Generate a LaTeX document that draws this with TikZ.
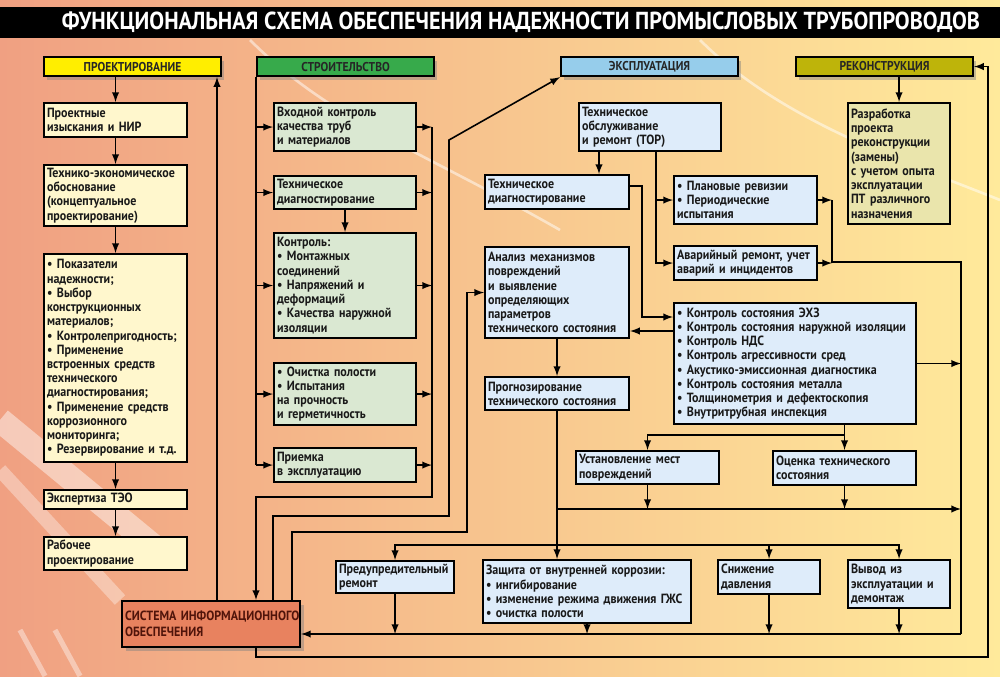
\documentclass[tikz,border=0pt]{standalone}
\usepackage{fontspec}
\setmainfont[FakeStretch=0.9]{PT Sans}
\usetikzlibrary{positioning,calc,shadows}

\definecolor{bgL}{RGB}{240,160,130}
\definecolor{bgM}{RGB}{250,203,122}
\definecolor{bgR}{RGB}{255,234,155}
\definecolor{cProj}{RGB}{255,238,0}
\definecolor{cStr}{RGB}{55,170,75}
\definecolor{cExp}{RGB}{150,205,235}
\definecolor{cRec}{RGB}{190,180,10}
\definecolor{fDes}{RGB}{255,247,205}
\definecolor{fStr}{RGB}{218,232,210}
\definecolor{fExp}{RGB}{222,236,250}
\definecolor{fRec}{RGB}{234,229,172}
\definecolor{fSio}{RGB}{232,130,95}
\definecolor{tSio}{RGB}{80,20,10}

\tikzset{
  arr/.style={line width=0.9pt,-latex},
  ln/.style={line width=0.9pt},
  hdr/.style={draw, line width=1.2pt, anchor=north west, minimum width=3.54cm,
    minimum height=0.38cm, inner sep=0pt, text=black!85,
    font=\fontsize{7.3}{8}\selectfont\bfseries,
    drop shadow={shadow xshift=1.5pt, shadow yshift=-2pt, opacity=0.45}},
  bx/.style={draw, line width=1.2pt, anchor=north west, inner xsep=0.06cm,
    inner ysep=1pt, align=left, text=black!90,
    font=\fontsize{7.6}{8.1}\selectfont\bfseries},
  dbox/.style={bx, fill=fDes, text width=2.74cm},
  cbox/.style={bx, fill=fStr, text width=2.72cm},
  ebox/.style={bx, fill=fExp},
  rbox/.style={bx, fill=fRec},
  sbox/.style={bx, fill=fSio, text=tSio, text width=3.44cm, minimum height=0.92cm,
    font=\fontsize{7.6}{9}\selectfont\bfseries,
    drop shadow={shadow xshift=2pt, shadow yshift=-2pt, opacity=0.45}}
}

\begin{document}
\begin{tikzpicture}[x=0.02cm, y=-0.02cm]
  \useasboundingbox (0,0) rectangle (1000,676);
  % background
  \shade[left color=bgL, middle color=bgM, right color=bgR] (0,0) rectangle (1000,676);
  \draw[white, opacity=0.45, line width=14pt] (0,420) -- (170,560);
  \draw[white, opacity=0.35, line width=8pt] (0,470) -- (120,600);
  \draw[white, opacity=0.4, line width=3pt] (20,630) -- (45,676);
  \draw[white, opacity=0.4, line width=3pt] (55,630) -- (80,676);
  \draw[white, opacity=0.5, line width=1.5pt] (250,40) .. controls (330,120) and (420,150) .. (560,230);
  \draw[white, opacity=0.5, line width=1.5pt] (700,40) .. controls (780,120) and (900,160) .. (1000,200);
  \fill[black] (0,7) rectangle (1000,38);
  \node[text=white, font=\fontsize{14}{16}\selectfont\bfseries] (title) at (521,22)
    {ФУНКЦИОНАЛЬНАЯ СХЕМА ОБЕСПЕЧЕНИЯ НАДЕЖНОСТИ ПРОМЫСЛОВЫХ ТРУБОПРОВОДОВ};

  % headers
  \node[hdr, fill=cProj] (hProj) at (43,56)  {ПРОЕКТИРОВАНИЕ};
  \node[hdr, fill=cStr]  (hStr)  at (256,56) {СТРОИТЕЛЬСТВО};
  \node[hdr, fill=cExp]  (hExp)  at (560,56) {ЭКСПЛУАТАЦИЯ};
  \node[hdr, fill=cRec]  (hRec)  at (795,56) {РЕКОНСТРУКЦИЯ};

  % design
  \node[dbox, minimum height=0.68cm] (dA) at (43,102) {Проектные\\изыскания и НИР};
  \node[dbox, minimum height=1.22cm] (dB) at (43,164) {Технико-экономическое\\обоснование\\(концептуальное\\проектирование)};
  \node[dbox, minimum height=4.16cm] (dC) at (43,253) {•~Показатели\\надежности;\\•~Выбор\\конструкционных\\материалов;\\•~Контролепригодность;\\•~Применение\\встроенных средств\\технического\\диагностирования;\\•~Применение средств\\коррозионного\\мониторинга;\\•~Резервирование и~т.д.};
  \node[dbox, minimum height=0.38cm] (dD) at (43,489) {Экспертиза ТЭО};
  \node[dbox, minimum height=0.66cm] (dE) at (43,536) {Рабочее\\проектирование};

  % construction
  \node[cbox, minimum height=0.96cm] (cA) at (273,102) {Входной контроль\\качества труб\\и материалов};
  \node[cbox, minimum height=0.66cm] (cB) at (273,175) {Техническое\\диагностирование};
  \node[cbox, minimum height=2.10cm] (cC) at (273,232) {Контроль:\\•~Монтажных\\соединений\\•~Напряжений и\\деформаций\\•~Качества наружной\\изоляции};
  \node[cbox, minimum height=1.24cm] (cD) at (273,362) {•~Очистка полости\\•~Испытания\\на прочность\\и герметичность};
  \node[cbox, minimum height=0.68cm] (cE) at (273,447) {Приемка\\в эксплуатацию};

  % exploitation
  \node[ebox, text width=2.72cm, minimum height=0.96cm] (eTOR)  at (578,102) {Техническое\\обслуживание\\и ремонт (ТОР)};
  \node[ebox, text width=2.76cm, minimum height=0.68cm] (eDiag) at (484,174) {Техническое\\диагностирование};
  \node[ebox, text width=2.74cm, minimum height=0.96cm] (ePlan) at (673,175) {•~Плановые ревизии\\•~Периодические\\испытания};
  \node[ebox, text width=2.74cm, minimum height=0.68cm] (eAvar) at (673,245) {Аварийный ремонт,~учет\\аварий и инцидентов};
  \node[ebox, text width=2.76cm, minimum height=1.82cm] (eAnal) at (484,246) {Анализ механизмов\\повреждений\\и выявление\\определяющих\\параметров\\технического~состояния};
  \node[ebox, text width=2.76cm, minimum height=0.66cm] (eProg) at (484,376) {Прогнозирование\\технического~состояния};
  \node[ebox, text width=4.72cm, minimum height=2.42cm] (eCtrl) at (673,302) {•~Контроль состояния ЭХЗ\\•~Контроль состояния наружной~изоляции\\•~Контроль НДС\\•~Контроль агрессивности сред\\•~Акустико-эмиссионная диагностика\\•~Контроль состояния металла\\•~Толщинометрия и дефектоскопия\\•~Внутритрубная инспекция};
  \node[ebox, text width=2.74cm, minimum height=0.66cm] (eUst)  at (575,450) {Установление мест\\повреждений};
  \node[ebox, text width=2.74cm, minimum height=0.68cm] (eOcen) at (772,450) {Оценка технического\\состояния};
  \node[ebox, text width=2.24cm, minimum height=0.64cm] (ePred) at (335,560) {Предупредительный\\ремонт};
  \node[ebox, text width=4.04cm, minimum height=1.26cm] (eZash) at (482,559) {Защита от внутренней коррозии:\\•~ингибирование\\•~изменение режима движения ГЖС\\•~очистка полости};
  \node[ebox, text width=1.92cm, minimum height=0.68cm] (eSniz) at (717,559) {Снижение\\давления};
  \node[ebox, text width=1.92cm, minimum height=0.96cm] (eVyv)  at (847,559) {Вывод из\\эксплуатации~и\\демонтаж};

  % reconstruction
  \node[rbox, text width=1.92cm, minimum height=2.42cm] (rA) at (847,102) {Разработка\\проекта\\реконструкции\\(замены)\\с учетом опыта\\эксплуатации\\ПТ различного\\назначения};

  \node[sbox] (sio) at (121,600) {СИСТЕМА~ИНФОРМАЦИОННОГО\\ОБЕСПЕЧЕНИЯ};

  % bends and bus points
  \coordinate (sioA) at (217,600);
  \coordinate (sioB) at (256,600);
  \coordinate (sioC) at (273,600);
  \coordinate (sioD) at (292,600);
  \coordinate (sioE) at (256,646);
  \coordinate (cR)   at (432,497);
  \coordinate (k1)   at (449,516);
  \coordinate (k1t)  at (449,140);
  \coordinate (k2)   at (467,532);
  \coordinate (t1)   at (599,150);
  \coordinate (t2)   at (656,150);
  \coordinate (t3)   at (642,317);
  \coordinate (t4)   at (673,331);
  \coordinate (t5)   at (832,262);
  \coordinate (rVt)  at (961,262);
  \coordinate (b1)   at (556,509);
  \coordinate (b2)   at (843,435);
  \coordinate (b3)   at (556,545);
  \coordinate (b4)   at (961,634);
  \coordinate (b5)   at (988,657);

  % design links
  \draw[arr] (dA.north |- hProj.south) -- (dA.north);
  \draw[arr] (dA) -- (dB);
  \draw[arr] (dB) -- (dC);
  \draw[arr] (dC) -- (dD);
  \draw[arr] (dD) -- (dE);
  \draw[arr] (sioA) -- (sioA |- hProj.south);

  % construction links
  \draw[ln] (hStr.south west) -- (hStr.south west |- cE.west);
  \foreach \b in {cA,cB,cC,cD,cE} {
    \draw[arr] (hStr.south west |- \b.west) -- (\b.west);
    \draw[arr] (\b.east) -- (\b.east -| cR);
  }
  \draw[arr] (cB) -- (cC);
  \draw[arr] (cA.east -| cR) -- (cR) -| (sioB);
  \draw[arr] (sioC) |- (k1) -- (k1t) -- (hExp.south west);
  \draw[arr] (sioD) |- (k2) |- (eAnal.west);

  % exploitation links
  \draw[arr] (t1) -- (t1 |- eDiag.north);
  \draw[arr] (t2) |- (eAvar.west);
  \draw[arr] (t2 |- ePlan.west) -- (ePlan.west);
  \draw[arr] ($(eDiag.east)+(0,-6)$) -| (t3) -- (t3 -| eCtrl.west);
  \draw[arr] (t4) -- (t4 -| eAnal.east);
  \draw[arr] (eAnal) -- (eProg);
  \draw[arr] (eProg.south) -- (eProg.south |- eZash.north);
  \draw[arr] (b1) -- (b1 -| b4);
  \draw[arr] (eUst.south) -- (eUst.south |- b1);
  \draw[arr] (eOcen.south) -- (eOcen.south |- b1);
  \draw[arr] (eOcen.north |- eCtrl.south) -- (eOcen.north);
  \draw[arr] (eOcen.north |- b2) -| (eUst.north);
  \draw[arr] (b3) -| (ePred.north);
  \draw[arr] (b3) -| (eSniz.north);
  \draw[arr] (b3) -| (eVyv.north);
  \foreach \b in {ePred,eZash,eSniz,eVyv}
    \draw[arr] (\b.south) -- (\b.south |- b4);
  \draw[arr] (b4) -- (b4 -| sio.east);
  \draw[arr] (ePlan.east) -- (ePlan.east -| t5);
  \draw[arr] (eAvar.east) -- (eAvar.east -| t5);
  \draw[ln] (t5 |- ePlan.east) -- (t5) -- (rVt) -- (b4);
  \draw[arr] (eCtrl.east) -- (eCtrl.east -| b4);
  \draw[arr] (sioE) |- (b5) |- (hRec.east);

  % reconstruction link
  \draw[arr] (rA.north |- hRec.south) -- (rA.north);
\end{tikzpicture}
\end{document}
